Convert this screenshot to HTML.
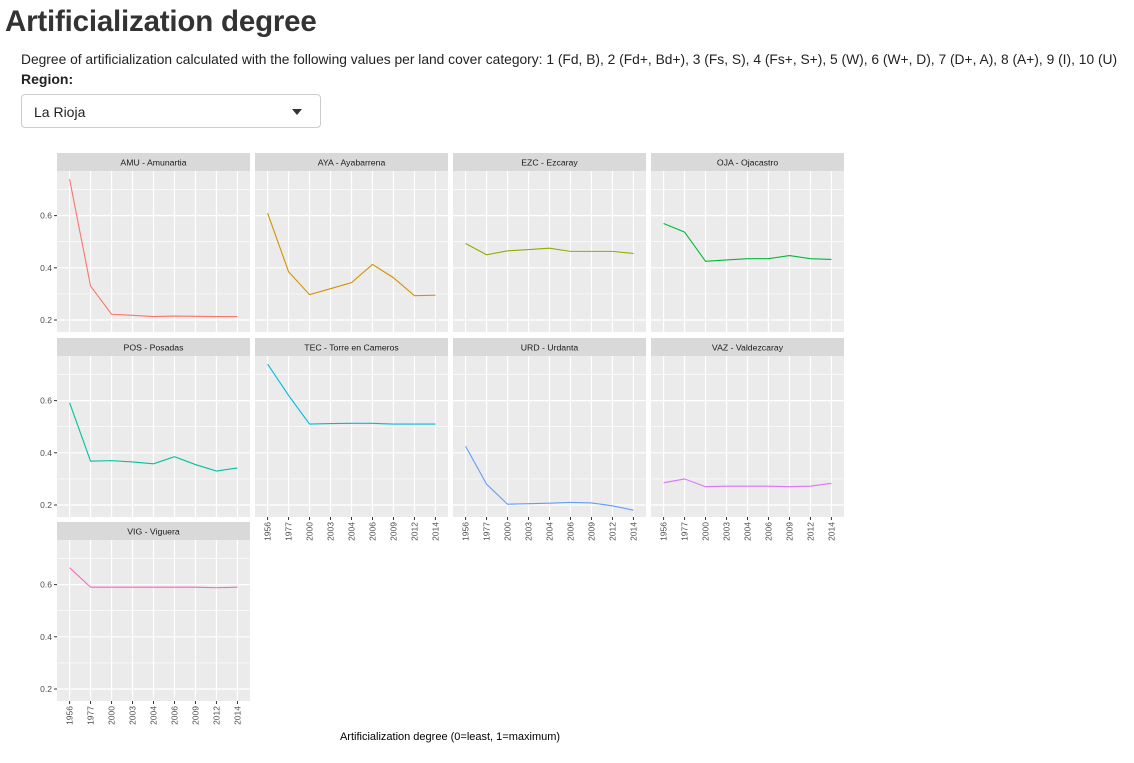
<!DOCTYPE html>
<html><head><meta charset="utf-8">
<style>
body{margin:0;width:1134px;height:763px;background:#fff;font-family:"Liberation Sans",Arial,sans-serif;color:#333;position:relative;overflow:hidden}
.abs{position:absolute;white-space:nowrap}
#title{left:5px;top:5px;font-size:29.5px;font-weight:bold;letter-spacing:-0.2px}
#desc{left:21px;top:52px;font-size:13.8px;color:#222}
#reg{left:21px;top:71px;font-size:14px;font-weight:bold;color:#222}
#sel{left:21px;top:94px;width:298px;height:32px;border:1px solid #ccc;border-radius:4px;box-sizing:content-box}
#sel span{position:absolute;left:12px;top:9px;font-size:14px;color:#222}
#sel i{position:absolute;right:18px;top:14px;width:0;height:0;border-left:5px solid transparent;border-right:5px solid transparent;border-top:6px solid #333}
svg{position:absolute;left:0;top:0}
</style></head><body>
<div id="title" class="abs">Artificialization degree</div>
<div id="desc" class="abs">Degree of artificialization calculated with the following values per land cover category: 1 (Fd, B), 2 (Fd+, Bd+), 3 (Fs, S), 4 (Fs+, S+), 5 (W), 6 (W+, D), 7 (D+, A), 8 (A+), 9 (I), 10 (U)</div>
<div id="reg" class="abs">Region:</div>
<div id="sel" class="abs"><span>La Rioja</span><i></i></div>
<svg id="chart" width="1134" height="763"></svg>
<script>
const years=["1956","1977","2000","2003","2004","2006","2009","2012","2014"];
const panelNames=["AMU - Amunartia","AYA - Ayabarrena","EZC - Ezcaray","OJA - Ojacastro","POS - Posadas","TEC - Torre en Cameros","URD - Urdanta","VAZ - Valdezcaray","VIG - Viguera"];
const colors=["#F8766D","#D39200","#93AA00","#00BA38","#00C19F","#00B9E3","#619CFF","#DB72FB","#FF61C3"];
const amu=[0.74,0.33,0.222,0.218,0.213,0.215,0.214,0.213,0.213];
const aya=[0.61,0.385,0.297,0.32,0.343,0.413,0.362,0.293,0.295];
const ezc=[0.493,0.45,0.465,0.47,0.475,0.463,0.463,0.463,0.455];
const oja=[0.57,0.537,0.425,0.43,0.435,0.435,0.447,0.435,0.432];
const pos=[0.592,0.368,0.37,0.365,0.358,0.385,0.355,0.33,0.342];
const tec=[0.74,0.62,0.51,0.512,0.513,0.513,0.51,0.51,0.51];
const urd=[0.425,0.28,0.203,0.205,0.207,0.21,0.208,0.197,0.18];
const vaz=[0.285,0.3,0.27,0.272,0.272,0.272,0.27,0.272,0.283];
const vig=[0.665,0.59,0.59,0.59,0.59,0.59,0.59,0.588,0.59];
const yTicks=[0.2,0.4,0.6];
const yMinor=[0.3,0.5,0.7];
const series=[amu,aya,ezc,oja,pos,tec,urd,vaz,vig];

const NS="http://www.w3.org/2000/svg";
const svg=document.getElementById('chart');
function mk(tag,attrs,parent){const e=document.createElementNS(NS,tag);for(const k in attrs)e.setAttribute(k,attrs[k]);(parent||svg).appendChild(e);return e;}
const colX=[57,255,453,651], PW=193, stripTops=[153,338,522], SH=18, PH=161;
const yMin=0.154,yMax=0.771;
series.forEach((vals,i)=>{
  const c=i%4,r=Math.floor(i/4);
  const x0=colX[c], st=stripTops[r], top=st+SH, bot=top+PH;
  const g=mk('g',{});
  
  
  const xs=k=>x0+PW*(k+0.6)/(years.length-1+1.2);
  const ys=v=>bot-(v-yMin)/(yMax-yMin)*PH;
  const bg=mk('rect',{x:x0,y:top,width:PW,height:PH,fill:'#EBEBEB'},g);
  
  
  yMinor.forEach(v=>{const y=ys(v);if(y>top&&y<bot)mk('line',{x1:x0,x2:x0+PW,y1:y,y2:y,stroke:'#fff','stroke-width':0.6},g);});
  yTicks.forEach(v=>mk('line',{x1:x0,x2:x0+PW,y1:ys(v),y2:ys(v),stroke:'#fff','stroke-width':1.2},g));
  years.forEach((_,k)=>mk('line',{x1:xs(k),x2:xs(k),y1:top,y2:bot,stroke:'#fff','stroke-width':1.2},g));
  const strip=mk('rect',{x:x0,y:st,width:PW,height:SH,fill:'#D9D9D9'},g);
  
  
  const stx=mk('text',{x:x0+PW/2,y:st+12.5,'text-anchor':'middle','font-size':'8.7','fill':'#1A1A1A'},g);
  stx.textContent=panelNames[i];
  
  
  const line=mk('polyline',{points:vals.map((v,k)=>xs(k)+','+ys(v)).join(' '),fill:'none',stroke:colors[i],'stroke-width':1.1},g);
  
  
  if(c===0){yTicks.forEach(v=>{
    mk('line',{x1:x0-3,x2:x0,y1:ys(v),y2:ys(v),stroke:'#333','stroke-width':1},g);
    const t=mk('text',{x:x0-5,y:ys(v)+3,'text-anchor':'end','font-size':'8.5',fill:'#4D4D4D'},g);
    t.textContent=v.toFixed(1);
    
    
  });}
  const hasAxis=(r===2)||(r===1&&c>0);
  if(hasAxis){years.forEach((yr,k)=>{
    mk('line',{x1:xs(k),x2:xs(k),y1:bot,y2:bot+3,stroke:'#333','stroke-width':1},g);
    const t=mk('text',{x:0,y:0,'text-anchor':'end','font-size':'8.5',fill:'#4D4D4D',transform:`translate(${xs(k)+3},${bot+5}) rotate(-90)`},g);
    t.textContent=yr;
    
    
  });}
});
const cap=mk('text',{x:450,y:740,'text-anchor':'middle','font-size':'11',fill:'#000'});
cap.textContent='Artificialization degree (0=least, 1=maximum)';


</script>
</body></html>
